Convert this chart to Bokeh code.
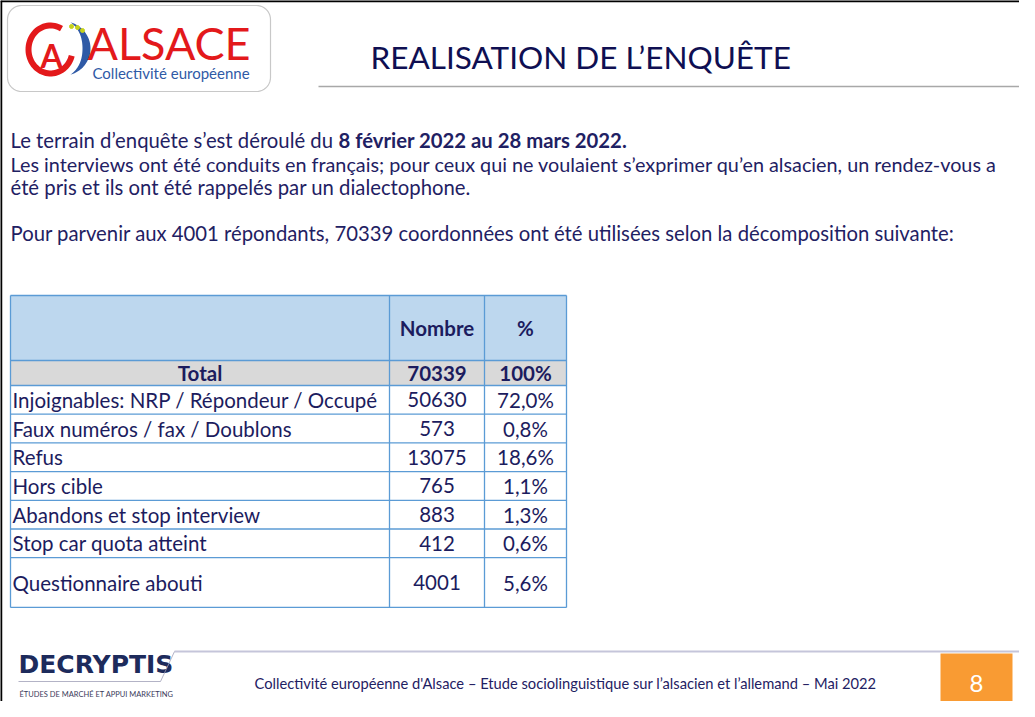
import numpy as np
from bokeh.plotting import figure
from bokeh.models import Range1d, ColumnDataSource
from bokeh.core.properties import value
from bokeh.embed import file_html
from bokeh.resources import INLINE

# ---------------- data ----------------
categories = [
    "Injoignables: NRP / Répondeur / Occupé",
    "Faux numéros / fax / Doublons",
    "Refus",
    "Hors cible",
    "Abandons et stop interview",
    "Stop car quota atteint",
    "Questionnaire abouti",
]
nombre = [50630, 573, 13075, 765, 883, 412, 4001]
pourcent = [72.0, 0.8, 18.6, 1.1, 1.3, 0.6, 5.6]
total_label = "Total"
total_nombre = 70339
total_pct = "100%"
col_headers = ["Nombre", "%"]

title = "REALISATION DE L\u2019ENQUÊTE"
body_l1_normal = "Le terrain d\u2019enquête s\u2019est déroulé du"
body_l1_bold = "8 février 2022 au 28 mars 2022."
body_l2 = ("Les interviews ont été conduits en français; pour ceux qui ne voulaient "
           "s\u2019exprimer qu\u2019en alsacien, un rendez-vous a")
body_l3 = "été pris et ils ont été rappelés par un dialectophone."
body_l4 = ("Pour parvenir aux 4001 répondants, 70339 coordonnées ont été utilisées "
           "selon la décomposition suivante:")
footer_text = ("Collectivité européenne d'Alsace \u2013 Etude sociolinguistique sur "
               "l\u2019alsacien et l\u2019allemand \u2013 Mai 2022")
page_number = "8"

# ---------------- figure ----------------
W, H = 1019, 701
p = figure(width=W, height=H, x_range=Range1d(8, 8 + W), y_range=Range1d(8 + H, 8),
           output_backend="svg", toolbar_location=None, min_border=0,
           x_axis_type=None, y_axis_type=None)
p.grid.visible = False
p.outline_line_color = None
p.background_fill_color = "white"

FONT = value("Lato")
NAVY = "#1c1c5e"
TXT = "#1f2163"

# slide frame
p.segment(x0=[8.5, 8], y0=[8, 8.5], x1=[8.5, 1027], y1=[709, 8.5],
          line_color="black", line_width=2.5)

# ---------------- logo ----------------
def rounded_rect(x0, y0, x1, y1, r, n=12):
    xs, ys = [], []
    corners = [(x1 - r, y0 + r, -np.pi / 2, 0), (x1 - r, y1 - r, 0, np.pi / 2),
               (x0 + r, y1 - r, np.pi / 2, np.pi), (x0 + r, y0 + r, np.pi, 1.5 * np.pi)]
    for cx, cy, a0, a1 in corners:
        t = np.linspace(a0, a1, n)
        xs += list(cx + r * np.cos(t))
        ys += list(cy + r * np.sin(t))
    return xs, ys

lx, ly = rounded_rect(15, 13, 278, 99, 14)
p.patch(lx, ly, fill_color="white", line_color="#c8c8c8", line_width=1.2)

# red ring (open towards the upper right)
t = np.radians(np.linspace(15, 300, 60))
cx, cy = 58, 57
ring_x = list(cx + 25 * np.cos(t)) + list(cx + 19 * np.cos(t[::-1]))
ring_y = list(cy + 27 * np.sin(t)) + list(cy + 21 * np.sin(t[::-1]))
p.patch(ring_x, ring_y, fill_color="#e3191b", line_color=None)
p.text(x=[59], y=[63], text=["A"], text_font=FONT, text_font_style="bold",
       text_font_size="32px", text_color="#e3191b", text_align="center",
       text_baseline="middle")
# blue crescent
tc = np.radians(np.linspace(-75, 75, 50))
wc = 8 * np.cos(tc * 90 / 75)
ccx, ccy, R = 71, 56, 27
cr_x = list(ccx + R * np.cos(tc)) + list((ccx + (R - wc) * np.cos(tc))[::-1])
cr_y = list(ccy + R * np.sin(tc)) + list((ccy + (R - wc) * np.sin(tc))[::-1])
p.patch(cr_x, cr_y, fill_color="#2f5aa6", line_color=None)
p.scatter(x=[79, 85, 90], y=[34, 35, 38], size=4, color="#c6d21a")
p.text(x=[95], y=[50], text=["ALSACE"], text_font=FONT, text_font_size="45px",
       text_color="#e3191b", text_align="left", text_baseline="middle")
p.text(x=[100], y=[80], text=["Collectivité européenne"], text_font=FONT,
       text_font_size="15px", text_color="#2f5aa6", text_align="left",
       text_baseline="middle")

# ---------------- title ----------------
p.text(x=[378], y=[64], text=[title], text_font=FONT, text_font_size="31.5px",
       text_color="#0f0f52", text_align="left", text_baseline="middle")
p.segment(x0=[326], y0=[94], x1=[1027], y1=[94], line_color="#a8a8a8", line_width=1.5)

# ---------------- body text ----------------
BS = "20.3px"
p.text(x=[18], y=[147], text=[body_l1_normal], text_font=FONT, text_font_size=BS,
       text_color=TXT, text_baseline="middle")
p.text(x=[346], y=[147], text=[body_l1_bold], text_font=FONT, text_font_size=BS,
       text_font_style="bold", text_color=TXT, text_baseline="middle")
p.text(x=[18], y=[171], text=[body_l2], text_font=FONT, text_font_size="19.8px",
       text_color=TXT, text_baseline="middle")
p.text(x=[18, 18], y=[194, 240], text=[body_l3, body_l4],
       text_font=FONT, text_font_size=BS, text_color=TXT, text_baseline="middle")

# ---------------- table ----------------
x_cols = [18, 397, 492, 574]
top = 303
header_h, total_h, row_h, last_h = 65, 25, 28.7, 49.7
heights = [row_h] * (len(categories) - 1) + [last_h]
bounds = [top, top + header_h, top + header_h + total_h]
for h in heights:
    bounds.append(bounds[-1] + h)
bottom = bounds[-1]

p.quad(left=[x_cols[0]], right=[x_cols[-1]], top=[bounds[0]], bottom=[bounds[1]],
       fill_color="#bdd7ee", line_color=None)
p.quad(left=[x_cols[0]], right=[x_cols[-1]], top=[bounds[1]], bottom=[bounds[2]],
       fill_color="#d9d9d9", line_color=None)

p.segment(x0=[x_cols[0]] * len(bounds), y0=bounds, x1=[x_cols[-1]] * len(bounds), y1=bounds,
          line_color="#5b9bd5", line_width=1.3)
p.segment(x0=x_cols, y0=[top] * 4, x1=x_cols, y1=[bottom] * 4,
          line_color="#5b9bd5", line_width=1.3)

xc_n = (x_cols[1] + x_cols[2]) / 2
xc_p = (x_cols[2] + x_cols[3]) / 2
TS = "20.5px"
p.text(x=[xc_n, xc_p], y=[(bounds[0] + bounds[1]) / 2] * 2, text=col_headers,
       text_font=FONT, text_font_style="bold", text_font_size=TS, text_color=NAVY,
       text_align="center", text_baseline="middle")
yt = (bounds[1] + bounds[2]) / 2
p.text(x=[(x_cols[0] + x_cols[1]) / 2, xc_n, xc_p], y=[yt] * 3,
       text=[total_label, str(total_nombre), total_pct],
       text_font=FONT, text_font_style="bold", text_font_size=TS, text_color=NAVY,
       text_align="center", text_baseline="middle")
yc = [(bounds[i + 2] + bounds[i + 3]) / 2 for i in range(len(categories))]
src = ColumnDataSource(dict(
    y=yc, cat=categories, n=[str(v) for v in nombre],
    pct=[("%.1f" % v).replace(".", ",") + "%" for v in pourcent],
    xl=[x_cols[0] + 2] * len(yc), xn=[xc_n] * len(yc), xp=[xc_p] * len(yc)))
p.text(x="xl", y="y", text="cat", source=src, text_font=FONT, text_font_size=TS,
       text_color=NAVY, text_align="left", text_baseline="middle")
p.text(x="xn", y="y", text="n", source=src, text_font=FONT, text_font_size=TS,
       text_color=NAVY, text_align="center", text_baseline="middle")
p.text(x="xp", y="y", text="pct", source=src, text_font=FONT, text_font_size=TS,
       text_color=NAVY, text_align="center", text_baseline="middle")

# ---------------- footer ----------------
p.segment(x0=[182], y0=[659], x1=[1027], y1=[659], line_color="#c5c5da", line_width=2)
p.text(x=[26], y=[672], text=["DECRYPTIS"], text_font=value("DejaVu Sans"),
       text_font_style="bold", text_font_size="25px", text_color="#1d2b5c",
       text_baseline="middle")
p.segment(x0=[26, 168], y0=[689, 689], x1=[168, 182], y1=[689, 659],
          line_color="#a0a0b8", line_width=0.8)
p.text(x=[27], y=[702], text=["ÉTUDES DE MARCHÉ ET APPUI MARKETING"], text_font=FONT,
       text_font_size="7.5px", text_color="#3a3a5a", text_baseline="middle")
p.text(x=[262], y=[690], text=[footer_text], text_font=FONT, text_font_size="14.7px",
       text_color=TXT, text_baseline="middle")
p.quad(left=[948], right=[1020], top=[661], bottom=[720], fill_color="#f99b33",
       line_color=None)
p.text(x=[984], y=[691], text=[page_number], text_font=FONT, text_font_size="24px",
       text_color="white", text_align="center", text_baseline="middle")

open("out.html", "w").write(file_html(p, INLINE))
